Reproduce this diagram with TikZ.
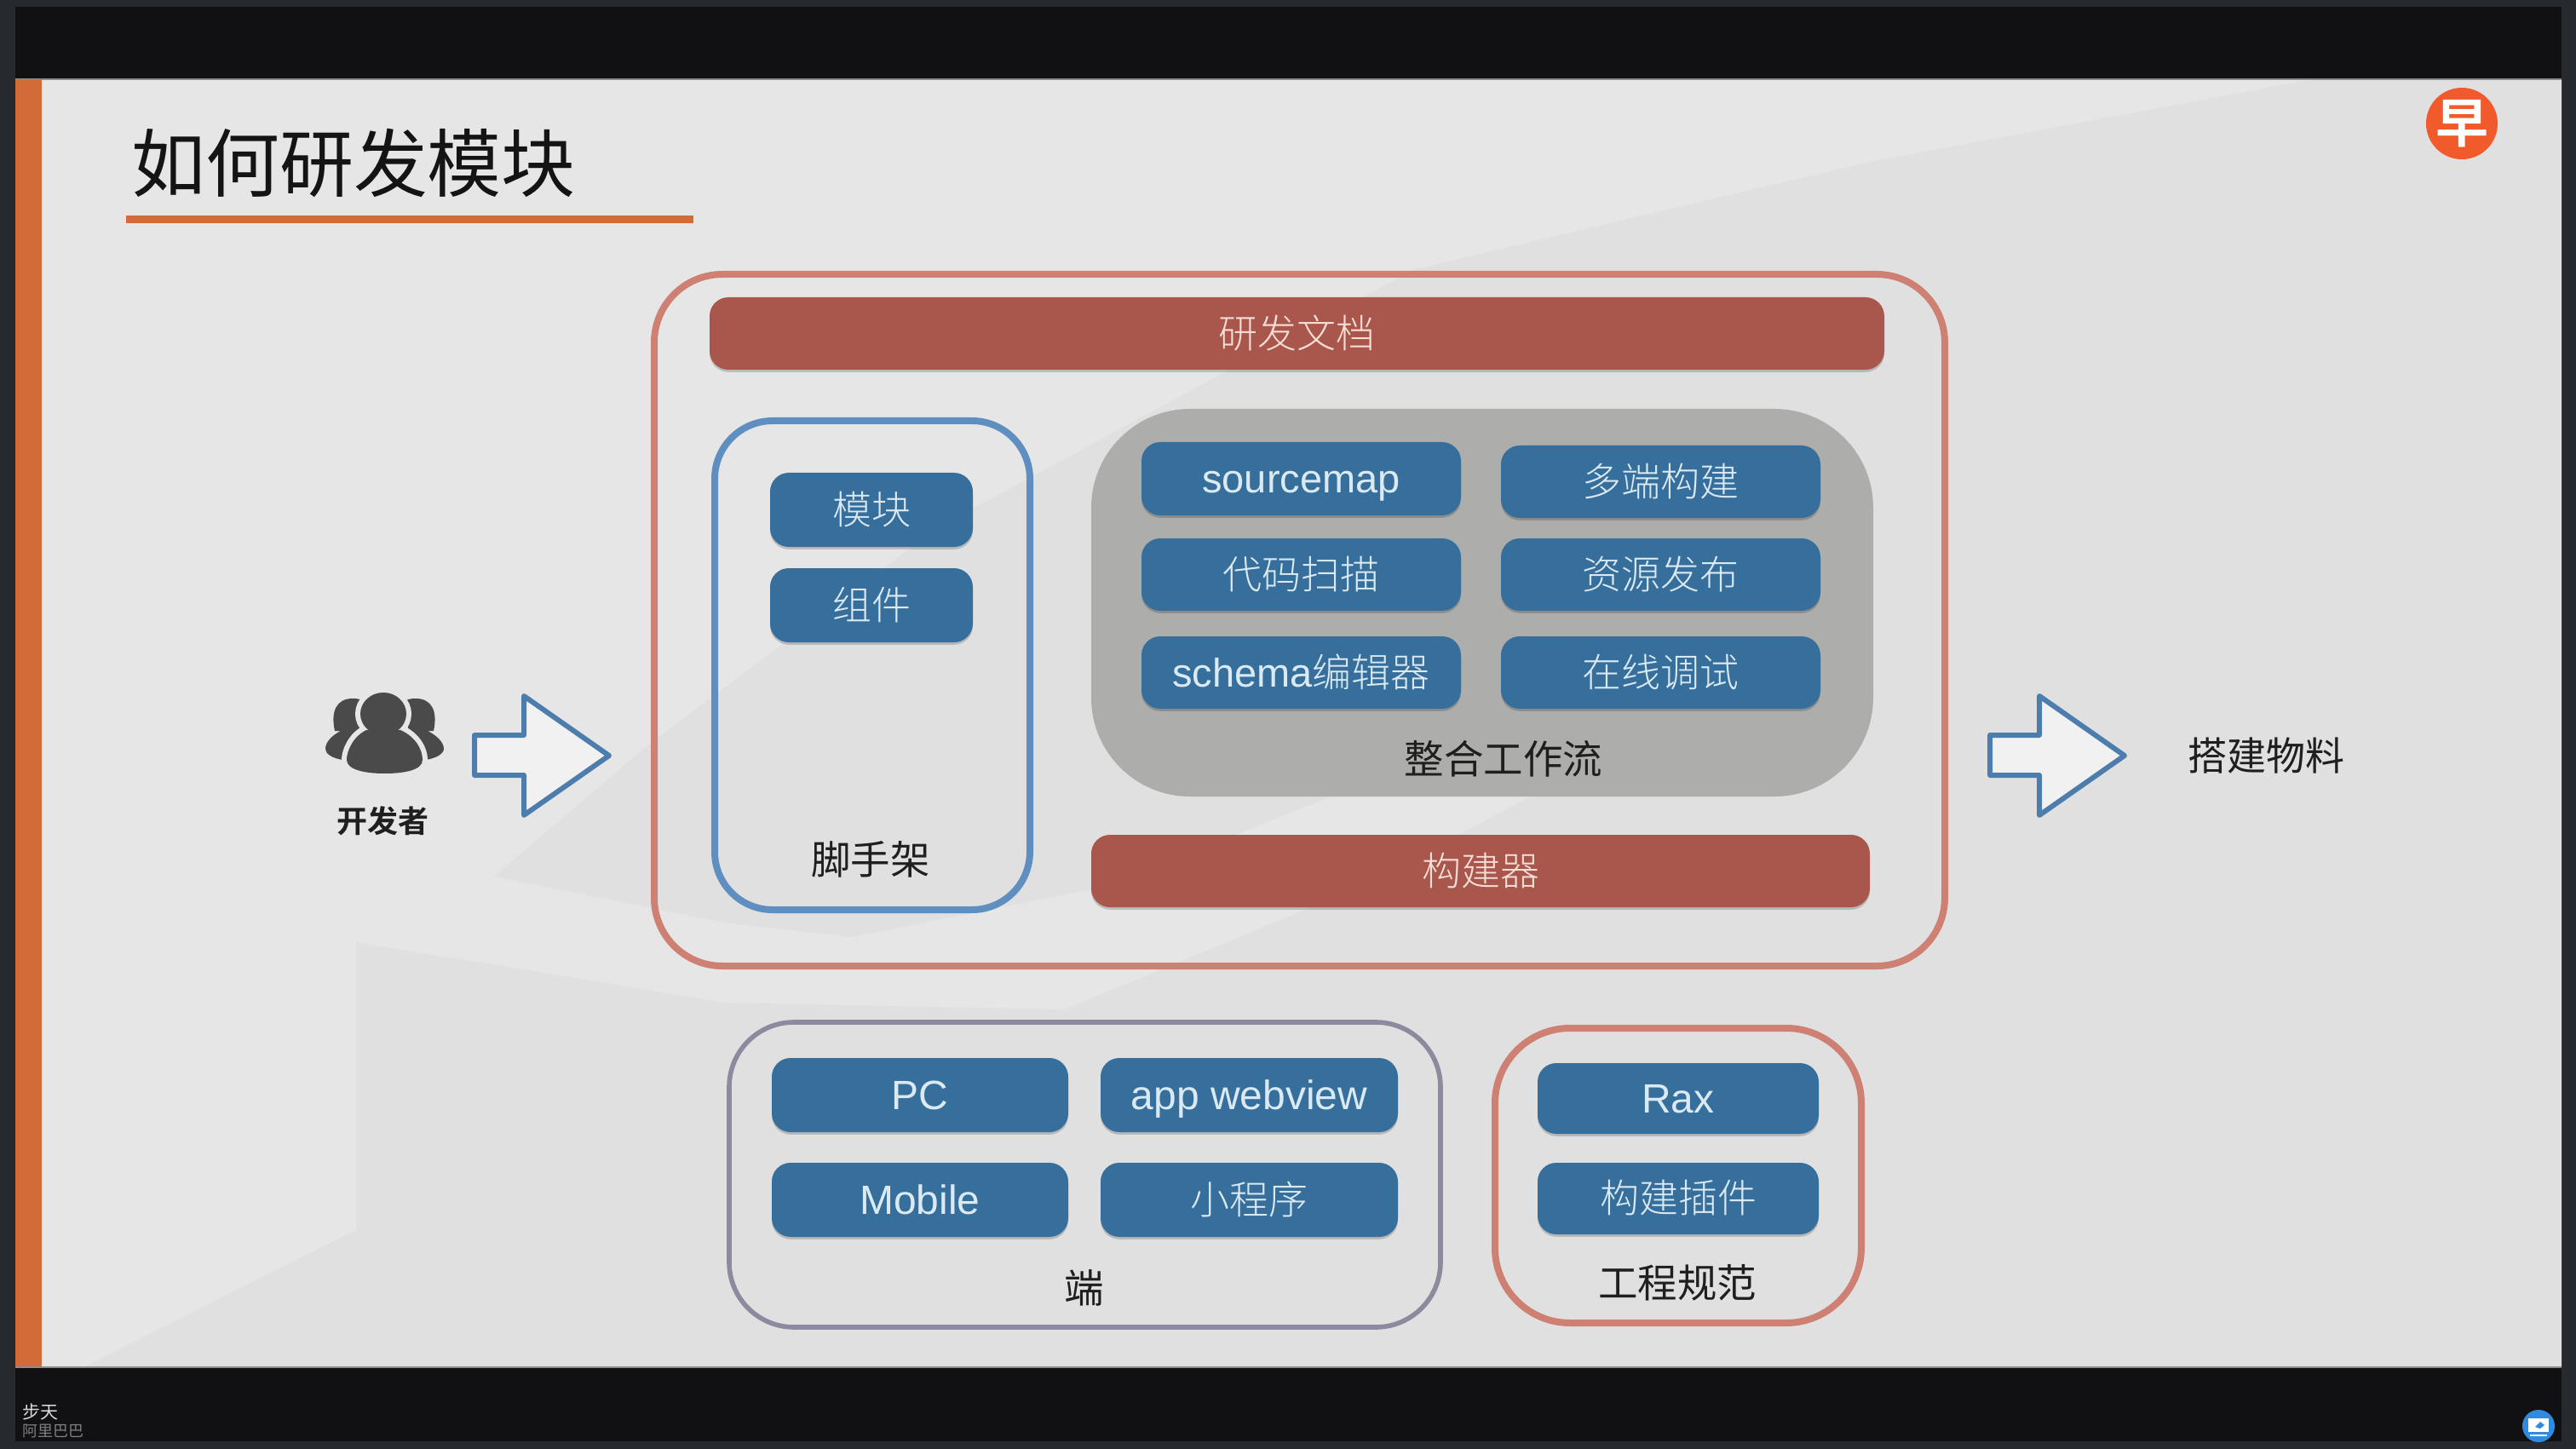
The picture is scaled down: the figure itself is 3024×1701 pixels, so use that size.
\documentclass[tikz,border=0pt]{standalone}
\usepackage{fontspec}
\setmainfont{Liberation Sans}
\newfontfamily\cjk{Noto Sans CJK SC}
\newfontfamily\cjkl{Noto Sans CJK SC Light}
\newfontfamily\cjkb{Noto Sans CJK SC Bold}
\usetikzlibrary{shadows,calc}
\definecolor{chrome}{HTML}{111113}
\definecolor{side}{HTML}{262A2F}
\definecolor{slide}{HTML}{E7E6E7}
\definecolor{slideb}{HTML}{E1E0E1}
\definecolor{accent}{HTML}{D26B37}
\definecolor{blueb}{HTML}{366F9C}
\definecolor{redb}{HTML}{A9574C}
\definecolor{frameR}{HTML}{CE8072}
\definecolor{frameB}{HTML}{5E8FC0}
\definecolor{frameG}{HTML}{8C8A9F}
\definecolor{greyb}{HTML}{ADADAB}
\definecolor{lblue}{HTML}{DAE9F2}
\definecolor{lred}{HTML}{F6DDD5}
\definecolor{arrowb}{HTML}{4D7DAC}
\definecolor{icon}{HTML}{4A4A4A}
\definecolor{badgec}{HTML}{F15A2B}
\definecolor{sharec}{HTML}{2F8AE0}
\newcommand{\pxf}[1]{\pgfmathsetmacro{\pxa}{#1*0.25}\pgfmathsetmacro{\pxb}{#1*0.3}\fontsize{\pxa pt}{\pxb pt}\selectfont}
\tikzset{
  x=0.25pt,y=-0.25pt,
  solidbox/.style={rounded corners=5.5pt,inner sep=0pt,outer sep=0pt,text height=10.9pt,text depth=2.6pt,drop shadow={shadow xshift=0pt,shadow yshift=-0.7pt,opacity=.18,fill=black}},
  bluebox/.style={solidbox,fill=blueb,text=lblue,font=\pxf{46}\cjkl},
  redbox/.style={solidbox,fill=redb,text=lred,font=\pxf{46}\cjkl},
  framebox/.style={rounded corners=#1,inner sep=0pt,outer sep=0pt,draw},
  lab/.style={inner sep=0pt,text=black!88,font=\pxf{46.5}\cjk},
  blockarrow/.style={draw=arrowb,line width=1.5pt,fill=slide!55!white,line join=round,drop shadow={shadow xshift=0pt,shadow yshift=-0.6pt,opacity=.15,fill=black}}
}
% name, x1, y1, x2, y2, style, text
\newcommand{\bx}[7]{\node[#6,minimum width={(#4-#2)*0.25pt},minimum height={(#5-#3)*0.25pt}] (#1) at ({(#2+#4)/2},{(#3+#5)/2}) {#7};}
\newcommand{\blockarr}[1]{\draw[blockarrow,xshift=#1*0.25pt] (557,863) -- (615,863) -- (615,817) -- (715,887) -- (615,957) -- (615,910) -- (557,910) -- cycle;}
\begin{document}
\begin{tikzpicture}
\useasboundingbox (0,0) rectangle (3024,1701);
% window chrome
\fill[chrome] (0,0) rectangle (3024,1701);
\fill[side] (0,0) rectangle (3024,8);
\fill[side] (0,1692) rectangle (3024,1701);
\fill[side] (0,0) rectangle (18,1701);
\fill[side] (3007,0) rectangle (3024,1701);
% slide
\fill[slide] (18,93) rectangle (3007,1604);
\fill[slideb] (2716,93) -- (3007,93) -- (3007,1604) -- (100,1604) -- (418,1444) -- (418,1106) -- (850,1177) -- (1250,1185) -- (1600,1040) -- (1900,880) -- (1600,920) -- (1300,1040) -- (1000,1100) -- (850,1083) -- (580,1029) -- (763,873) -- (1100,620) -- (1661,316) -- (2200,189) -- cycle;
\fill[black!45] (18,92) rectangle (3007,94);
\fill[black!45] (18,1604) rectangle (3007,1606);
\fill[accent] (18,93) rectangle (49,1604);
% title
\node[inner sep=0pt,text=black!92,font=\pxf{87}\cjk] (title) at (415,191) {如何研发模块};
\fill[accent] (148,253) rectangle (814,262);
% badge
\node[circle,fill=badgec,minimum size={84*0.25pt},inner sep=0pt,text=white,font=\pxf{62}\cjkb] (badge) at (2890,145) {早};
% developer icon
\fill[icon] (393,858) .. controls (388,835) and (395,820) .. (414,820) .. controls (420,820) and (425,821) .. (428,824) -- (420,872) -- (402,892) .. controls (390,890) and (382,885) .. (382,879) .. controls (382,870) and (392,862) .. (400,858) -- cycle;
\fill[icon] (509,858) .. controls (514,835) and (507,820) .. (488,820) .. controls (482,820) and (477,821) .. (474,824) -- (482,872) -- (500,892) .. controls (512,890) and (521,885) .. (521,879) .. controls (521,870) and (510,862) .. (502,858) -- cycle;
\draw[slide,line width=3pt] (450,838) ellipse (27 and 25);
\draw[slide,line width=3pt] (430,857) .. controls (414,865) and (407,882) .. (407,892) .. controls (407,904) and (430,908) .. (451,908) .. controls (475,908) and (496,904) .. (496,892) .. controls (496,880) and (488,865) .. (470,857) -- cycle;
\fill[icon] (450,838) ellipse (27 and 25);
\fill[icon] (430,857) .. controls (414,865) and (407,882) .. (407,892) .. controls (407,904) and (430,908) .. (451,908) .. controls (475,908) and (496,904) .. (496,892) .. controls (496,880) and (488,865) .. (470,857) -- cycle;
\node[lab,font=\pxf{36}\cjkb] (dev) at (449,964) {开发者};
\blockarr{0}
\blockarr{1779}
\node[lab,font=\pxf{46}\cjk] (mat) at (2660,887) {搭建物料};
% main frame
\bx{main}{768}{322}{2283}{1134}{framebox=20pt,draw=frameR,line width=2pt}{}
\bx{doc}{833}{349}{2212}{434}{redbox}{研发文档}
% scaffold
\bx{scaf}{839}{494}{1209}{1068}{framebox=17pt,draw=frameB,line width=2pt}{}
\bx{mod}{904}{555}{1142}{642}{bluebox}{模块}
\bx{comp}{904}{667}{1142}{754}{bluebox}{组件}
\node[lab] (scaflab) at (1022,1009) {脚手架};
% workflow
\bx{flow}{1281}{480}{2199}{935}{framebox=29pt,draw=none,fill=greyb}{}
\bx{src}{1340}{519}{1715}{605}{bluebox,font=\pxf{47}\rmfamily}{sourcemap}
\bx{multi}{1762}{523}{2137}{608}{bluebox}{多端构建}
\bx{scan}{1340}{632}{1715}{717}{bluebox}{代码扫描}
\bx{pub}{1762}{632}{2137}{717}{bluebox}{资源发布}
\bx{sch}{1340}{747}{1715}{832}{bluebox,font=\pxf{47}\rmfamily}{schema{\cjkl\pxf{46}编辑器}}
\bx{dbg}{1762}{747}{2137}{832}{bluebox}{在线调试}
\node[lab] (flowlab) at (1765,891) {整合工作流};
\bx{build}{1281}{980}{2195}{1065}{redbox}{构建器}
% ends
\bx{ends}{856}{1200}{1691}{1558}{framebox=19pt,draw=frameG,line width=1.4pt}{}
\bx{pc}{906}{1242}{1254}{1329}{bluebox,font=\pxf{48}\rmfamily}{PC}
\bx{app}{1292}{1242}{1641}{1329}{bluebox,font=\pxf{48}\rmfamily}{app webview}
\bx{mob}{906}{1365}{1254}{1452}{bluebox,font=\pxf{48}\rmfamily}{Mobile}
\bx{mini}{1292}{1365}{1641}{1452}{bluebox}{小程序}
\node[lab] (endlab) at (1273,1512) {端};
% standards
\bx{std}{1755}{1207}{2185}{1553}{framebox=22pt,draw=frameR,line width=2pt}{}
\bx{rax}{1805}{1248}{2135}{1331}{bluebox,font=\pxf{48}\rmfamily}{Rax}
\bx{plug}{1805}{1365}{2135}{1449}{bluebox}{构建插件}
\node[lab] (stdlab) at (1969,1506) {工程规范};
% bottom bar
\node[inner sep=0pt,text=white!85!black,font=\pxf{21}\cjk,anchor=west] (name) at (26,1657) {步天};
\node[inner sep=0pt,text=white!50!black,font=\pxf{18}\cjk,anchor=west] (org) at (26,1680) {阿里巴巴};
\node[circle,fill=sharec,minimum size={38*0.25pt},inner sep=0pt] (share) at (2980,1674) {};
\fill[white] (2968,1665) rectangle (2992,1681);
\fill[white] (2970,1684) rectangle (2990,1686);
\fill[sharec] (2976,1675) -- (2982,1669) -- (2987,1673) -- (2982,1677) -- cycle;
\end{tikzpicture}
\end{document}
